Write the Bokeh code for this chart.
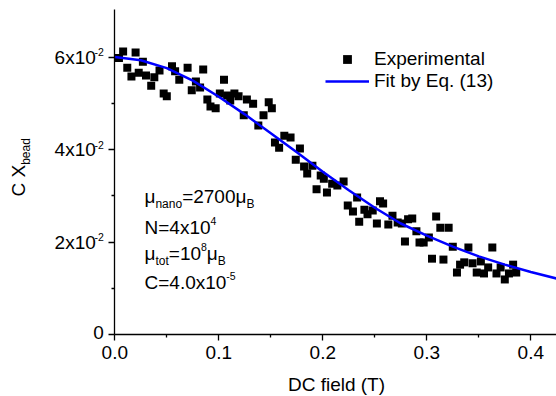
import math
from bokeh.plotting import figure
from bokeh.models import (Range1d, FixedTicker, PrintfTickFormatter, Label,
                          Legend, LegendItem, CustomJSTickFormatter)
from bokeh.embed import file_html
from bokeh.resources import INLINE

# ---------------- data ----------------
field_T = [0.004, 0.008, 0.012, 0.016, 0.020, 0.023, 0.027, 0.030, 0.035, 0.038,
           0.043, 0.047, 0.050, 0.055, 0.058, 0.062, 0.070, 0.074, 0.078, 0.082,
           0.085, 0.089, 0.092, 0.097, 0.101, 0.105, 0.108, 0.111, 0.115, 0.119,
           0.124, 0.127, 0.133, 0.138, 0.143, 0.148, 0.151, 0.154, 0.158, 0.163,
           0.169, 0.174, 0.178, 0.182, 0.185, 0.190, 0.194, 0.198, 0.201, 0.204,
           0.209, 0.214, 0.220, 0.224, 0.229, 0.233, 0.235, 0.240, 0.243, 0.248,
           0.252, 0.255, 0.258, 0.263, 0.267, 0.272, 0.276, 0.279, 0.282, 0.286,
           0.290, 0.293, 0.297, 0.302, 0.305, 0.309, 0.313, 0.316, 0.321, 0.325,
           0.329, 0.332, 0.336, 0.340, 0.344, 0.348, 0.352, 0.355, 0.359, 0.363,
           0.367, 0.371, 0.375, 0.379, 0.383, 0.386]
cx_bead = [0.0598, 0.0612, 0.0577, 0.0558, 0.0610, 0.0566, 0.0590, 0.0560, 0.0538, 0.0556,
           0.0571, 0.0521, 0.0515, 0.0580, 0.0569, 0.0551, 0.0577, 0.0528, 0.0547, 0.0534,
           0.0573, 0.0508, 0.0493, 0.0489, 0.0521, 0.0551, 0.0517, 0.0506, 0.0521, 0.0515,
           0.0474, 0.0508, 0.0499, 0.0452, 0.0474, 0.0502, 0.0489, 0.0415, 0.0404, 0.0430,
           0.0426, 0.0378, 0.0402, 0.0363, 0.0348, 0.0365, 0.0314, 0.0344, 0.0337, 0.0307,
           0.0326, 0.0322, 0.0331, 0.0279, 0.0266, 0.0296, 0.0244, 0.0270, 0.0260, 0.0268,
           0.0240, 0.0288, 0.0283, 0.0238, 0.0257, 0.0242, 0.0240, 0.0201, 0.0249, 0.0251,
           0.0223, 0.0199, 0.0199, 0.0210, 0.0164, 0.0255, 0.0231, 0.0162, 0.0231, 0.0190,
           0.0134, 0.0151, 0.0156, 0.0188, 0.0154, 0.0134, 0.0158, 0.0132, 0.0145, 0.0188,
           0.0132, 0.0145, 0.0119, 0.0132, 0.0151, 0.0134]

fit_T = [0.000, 0.025, 0.050, 0.075, 0.100, 0.125, 0.150, 0.175, 0.200,
         0.225, 0.250, 0.275, 0.300, 0.325, 0.350, 0.375, 0.400, 0.425]
fit_cx = [0.0600, 0.0593, 0.0576, 0.0549, 0.0514, 0.0476, 0.0435, 0.0394, 0.0352,
          0.0312, 0.0274, 0.0240, 0.0214, 0.0190, 0.0169, 0.0151, 0.0135, 0.0121]

x_ticks = [0.0, 0.1, 0.2, 0.3, 0.4]
x_minor = [0.05, 0.15, 0.25, 0.35]
y_ticks = [0.0, 0.02, 0.04, 0.06]
y_minor = [0.01, 0.03, 0.05]
y_tick_base = ["0", "2x10", "4x10", "6x10"]
y_tick_sup = ["", "-2", "-2", "-2"]

legend_labels = ["Experimental", "Fit by Eq. (13)"]
x_title = "DC field (T)"
y_title = [("C X", "main"), ("bead", "sub")]
param_lines = [
    [("\u03bc", "main"), ("nano", "sub"), ("=2700", "main"), ("\u03bc", "main"), ("B", "sub")],
    [("N=4x10", "main"), ("4", "sup")],
    [("\u03bc", "main"), ("tot", "sub"), ("=10", "main"), ("8", "sup"), ("\u03bc", "main"), ("B", "sub")],
    [("C=4.0x10", "main"), ("-5", "sup")],
]

# ---------------- layout ----------------
FONT = "Liberation Sans"
FS, FS_SUB, FS_SUP = 19, 12, 10.5
W, H = 556, 396
ORIGIN_PX = (114.3, 334.0)      # where (0, 0) sits on the canvas
PXX, PXY = 1040.0, 4625.0       # pixels per data unit
X_END, Y_END = 0.4247, 0.0703   # axis extents

x_start = -ORIGIN_PX[0] / PXX
x_stop = (W - ORIGIN_PX[0]) / PXX
y_start = -(H - ORIGIN_PX[1]) / PXY
y_stop = ORIGIN_PX[1] / PXY

ADV = {"\u03bc": 576, "n": 556, "a": 556, "o": 556, "=": 584, "B": 667, "N": 722,
       "x": 500, "t": 278, "C": 722, ".": 278, "-": 333, " ": 278, "X": 667,
       "b": 556, "e": 556, "d": 556}
for d in "0123456789":
    ADV[d] = 556


def twidth(s, fs):
    return sum(ADV.get(c, 556) for c in s) * fs / 1000.0


def at(px, py):
    return (px - ORIGIN_PX[0]) / PXX, (ORIGIN_PX[1] - py) / PXY


p = figure(width=W, height=H, x_range=Range1d(x_start, x_stop), y_range=Range1d(y_start, y_stop),
           output_backend="svg", toolbar_location=None, title=None,
           min_border_left=0, min_border_right=0, min_border_top=0, min_border_bottom=0)
p.outline_line_color = None
p.xgrid.visible = False
p.ygrid.visible = False
p.background_fill_color = "white"
p.border_fill_color = "white"

sq = p.scatter(field_T, cx_bead, marker="square", size=8, fill_color="black", line_color=None)
ln = p.line(fit_T, fit_cx, line_color="#0000FF", line_width=2.5)

for ax in (p.xaxis[0], p.yaxis[0]):
    ax.fixed_location = 0
    ax.axis_line_color = "black"
    ax.axis_line_width = 1.3
    ax.major_tick_line_color = "black"
    ax.major_tick_line_width = 1.3
    ax.minor_tick_line_color = "black"
    ax.minor_tick_line_width = 1.3
    ax.major_tick_in = 0
    ax.minor_tick_in = 0
    ax.major_tick_out = 6
    ax.minor_tick_out = 3

p.xaxis.bounds = (0, X_END)
p.yaxis.bounds = (0, Y_END)
p.xaxis.ticker = FixedTicker(ticks=x_ticks, minor_ticks=x_minor)
p.xaxis.formatter = PrintfTickFormatter(format="%.1f")
p.xaxis.major_label_text_font = FONT
p.xaxis.major_label_text_font_size = f"{FS}px"
p.xaxis.major_label_text_color = "black"
p.xaxis.major_label_standoff = 5

p.yaxis.ticker = FixedTicker(ticks=y_ticks, minor_ticks=y_minor)
p.yaxis.formatter = CustomJSTickFormatter(code="return ''")


def add_text(x, y, xo, yo, txt, fs, align="left", angle=0.0):
    # (x, y) data anchor; xo/yo pixel offsets (yo positive = up); anchor is the text's vertical middle
    p.add_layout(Label(x=x, y=y, x_offset=xo, y_offset=yo, text=txt, angle=angle,
                       text_font=FONT, text_font_size=f"{fs}px", text_color="black",
                       text_align=align, text_baseline="middle"))


# y tick labels with superscripts
for v, base, sup in zip(y_ticks, y_tick_base, y_tick_sup):
    if sup:
        add_text(0, v, -19, 0, base, FS, align="right")
        add_text(0, v, -11, 5, sup, FS_SUP, align="right")
    else:
        add_text(0, v, -11, 2, base, FS, align="right")

SIZES = {"main": FS, "sub": FS_SUB, "sup": FS_SUP}
SHIFT = {"main": 0, "sub": -7.5, "sup": 6.5}   # centre offsets relative to the main run (px, up)


def rich(px, py, runs, angle=0.0):
    # (px, py): canvas point on the vertical middle of the main-size text at its start
    x, y = at(px, py)
    pos = 0.0
    for txt, kind in runs:
        fs = SIZES[kind]
        if angle == 0.0:
            xo, yo = pos, SHIFT[kind]
        else:
            xo, yo = -SHIFT[kind], pos
        add_text(x, y, xo, yo, txt, fs, angle=angle)
        pos += twidth(txt, fs)


# parameter block
for py, runs in zip([195.5, 226.5, 253, 282], param_lines):
    rich(144, py, runs)

# axis titles
rich(18, 196, y_title, angle=math.pi / 2)
tx, ty = at(336, 383.5)
add_text(tx, ty, 0, 0, x_title, FS, align="center")

legend = Legend(items=[LegendItem(label=legend_labels[0], renderers=[sq]),
                       LegendItem(label=legend_labels[1], renderers=[ln])],
                location=(325, 304), padding=0, spacing=0, margin=0,
                glyph_width=44, glyph_height=22, label_height=22, label_standoff=5,
                label_text_font=FONT, label_text_font_size=f"{FS}px", label_text_color="black",
                border_line_color=None, background_fill_alpha=0)
p.add_layout(legend)

open("out.html", "w").write(file_html(p, INLINE))
